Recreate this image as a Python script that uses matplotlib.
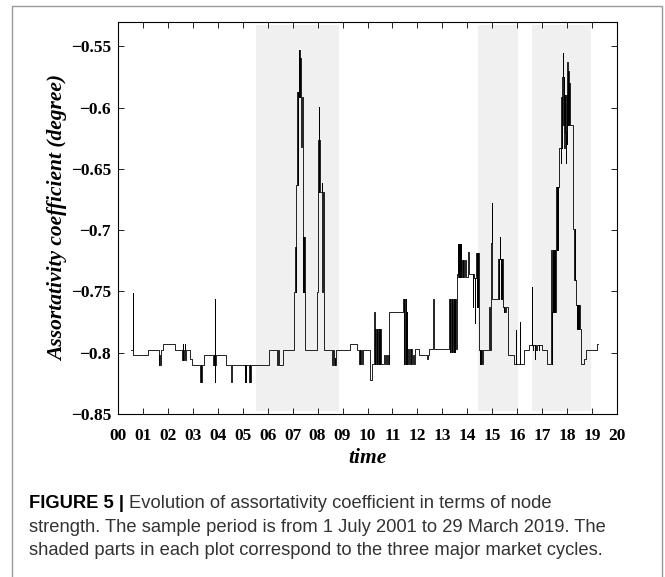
import matplotlib.pyplot as plt
from matplotlib.patches import Rectangle

# serie (tiempo en años desde 2000, coeficiente), dibujada en escalones
t = [0.53, 0.60, 0.62, 1.20, 1.63, 1.66, 1.69, 1.74, 1.80, 2.29,
     2.57, 2.59, 2.62, 2.65, 2.68, 2.70, 2.73, 2.88, 2.95, 3.30,
     3.32, 3.34, 3.37, 3.43, 3.80, 3.83, 3.86, 3.88, 3.89, 3.90,
     3.93, 4.33, 4.54, 4.56, 5.08, 5.10, 5.12, 5.14, 5.26, 5.28,
     5.31, 5.33, 6.06, 6.37, 6.42, 6.44, 6.60, 7.05, 7.06, 7.07,
     7.08, 7.10, 7.11, 7.13, 7.14, 7.15, 7.17, 7.18, 7.19, 7.21,
     7.22, 7.24, 7.25, 7.26, 7.27, 7.28, 7.30, 7.31, 7.33, 7.35,
     7.37, 7.40, 7.42, 7.43, 7.45, 7.46, 7.48, 7.50, 7.51, 7.99,
     8.00, 8.02, 8.04, 8.05, 8.06, 8.07, 8.09, 8.10, 8.11, 8.17,
     8.18, 8.20, 8.21, 8.22, 8.24, 8.59, 8.61, 8.66, 8.68, 8.70,
     8.72, 8.74, 9.28, 9.57, 9.66, 9.68, 9.70, 9.74, 9.76, 9.80,
     10.12, 10.19, 10.28, 10.30, 10.32, 10.35, 10.37, 10.40, 10.42, 10.45,
     10.47, 10.50, 10.52, 10.55, 10.68, 10.71, 10.74, 10.78, 10.82, 10.85,
     10.88, 11.44, 11.46, 11.48, 11.50, 11.53, 11.55, 11.58, 11.60, 11.62,
     11.68, 11.70, 11.74, 11.76, 11.80, 11.83, 11.86, 11.90, 12.08, 12.40,
     12.42, 12.48, 12.64, 12.65, 13.28, 13.30, 13.32, 13.35, 13.37, 13.40,
     13.42, 13.45, 13.47, 13.50, 13.52, 13.55, 13.59, 13.61, 13.63, 13.65,
     13.67, 13.69, 13.71, 13.73, 13.75, 13.78, 13.81, 13.84, 13.88, 13.92,
     13.96, 14.01, 14.08, 14.21, 14.22, 14.28, 14.30, 14.31, 14.35, 14.37,
     14.39, 14.41, 14.43, 14.45, 14.48, 14.50, 14.52, 14.54, 14.56, 14.58,
     14.62, 14.85, 14.90, 14.95, 14.99, 15.00, 15.25, 15.27, 15.29, 15.32,
     15.33, 15.35, 15.37, 15.39, 15.41, 15.44, 15.47, 15.49, 15.52, 15.54,
     15.65, 15.88, 15.95, 15.96, 16.12, 16.13, 16.28, 16.48, 16.59, 16.60,
     16.63, 16.65, 16.70, 16.72, 16.77, 16.79, 16.86, 16.88, 17.01, 17.20,
     17.35, 17.37, 17.39, 17.41, 17.43, 17.45, 17.47, 17.49, 17.51, 17.53,
     17.55, 17.57, 17.59, 17.61, 17.63, 17.65, 17.68, 17.75, 17.77, 17.79,
     17.81, 17.83, 17.84, 17.86, 17.88, 17.90, 17.92, 17.94, 17.96, 17.98,
     18.00, 18.02, 18.04, 18.06, 18.08, 18.10, 18.24, 18.28, 18.30, 18.33,
     18.37, 18.39, 18.41, 18.43, 18.45, 18.47, 18.49, 18.51, 18.55, 18.68,
     18.77, 19.21, 19.25]
v = [-0.7980, -0.7509, -0.8022, -0.7975, -0.8096, -0.8022, -0.8096, -0.7975, -0.7930, -0.7975,
     -0.8060, -0.7930, -0.8060, -0.7975, -0.7930, -0.8060, -0.7975, -0.8050, -0.8096, -0.8236,
     -0.8096, -0.8236, -0.8096, -0.8022, -0.8096, -0.8022, -0.8096, -0.7558, -0.8236, -0.8096,
     -0.8022, -0.8096, -0.8236, -0.8096, -0.8236, -0.8096, -0.8236, -0.8096, -0.8236, -0.8096,
     -0.8236, -0.8096, -0.7975, -0.8096, -0.7975, -0.8096, -0.7975, -0.7504, -0.7627, -0.7504,
     -0.7136, -0.7504, -0.7136, -0.7504, -0.7136, -0.6631, -0.5868, -0.6631, -0.5868, -0.6631,
     -0.5868, -0.5595, -0.5527, -0.5909, -0.5527, -0.5595, -0.5909, -0.5595, -0.5909, -0.6318,
     -0.5909, -0.7054, -0.7504, -0.7054, -0.7504, -0.7054, -0.7504, -0.7054, -0.7975, -0.7504,
     -0.6686, -0.6263, -0.5991, -0.6263, -0.6686, -0.6263, -0.6686, -0.6263, -0.6686, -0.6618,
     -0.7504, -0.6686, -0.7504, -0.6686, -0.7975, -0.8096, -0.7975, -0.8096, -0.8040, -0.8096,
     -0.8040, -0.7975, -0.7930, -0.7975, -0.8090, -0.7975, -0.8090, -0.7975, -0.8090, -0.7975,
     -0.8221, -0.8090, -0.7668, -0.8090, -0.7809, -0.8090, -0.7809, -0.8090, -0.7809, -0.8090,
     -0.7809, -0.8090, -0.7809, -0.8090, -0.8022, -0.8090, -0.8022, -0.8090, -0.8022, -0.8090,
     -0.7668, -0.7558, -0.8090, -0.7558, -0.8090, -0.7558, -0.8090, -0.7668, -0.8090, -0.7973,
     -0.8090, -0.7973, -0.8090, -0.7973, -0.8090, -0.8022, -0.8090, -0.7973, -0.8022, -0.8050,
     -0.8022, -0.7973, -0.7558, -0.7973, -0.7558, -0.7995, -0.7558, -0.7995, -0.7558, -0.7995,
     -0.7558, -0.7995, -0.7558, -0.7995, -0.7558, -0.7973, -0.7354, -0.7109, -0.7382, -0.7109,
     -0.7382, -0.7109, -0.7382, -0.7109, -0.7382, -0.7245, -0.7382, -0.7245, -0.7382, -0.7245,
     -0.7382, -0.7177, -0.7354, -0.7627, -0.7354, -0.7392, -0.7760, -0.7392, -0.7189, -0.7627,
     -0.7189, -0.7627, -0.7189, -0.7926, -0.7981, -0.8090, -0.7981, -0.8090, -0.7981, -0.8090,
     -0.7981, -0.7627, -0.7981, -0.7108, -0.6781, -0.7558, -0.7231, -0.7558, -0.7231, -0.7054,
     -0.7231, -0.7558, -0.7231, -0.7558, -0.7231, -0.7627, -0.7668, -0.7627, -0.7668, -0.7627,
     -0.8022, -0.8090, -0.7817, -0.8090, -0.7750, -0.8090, -0.7981, -0.7940, -0.7463, -0.7940,
     -0.7981, -0.7940, -0.8049, -0.7940, -0.7981, -0.7940, -0.7981, -0.7940, -0.7981, -0.8090,
     -0.7668, -0.7163, -0.8090, -0.7668, -0.7163, -0.7668, -0.7163, -0.7668, -0.7163, -0.7668,
     -0.7163, -0.6645, -0.7163, -0.6645, -0.7163, -0.6645, -0.6331, -0.6454, -0.5909, -0.6331,
     -0.5750, -0.5554, -0.6141, -0.5750, -0.6331, -0.5900, -0.6200, -0.6454, -0.5900, -0.6300,
     -0.5623, -0.6141, -0.5700, -0.6141, -0.5800, -0.6141, -0.6986, -0.7408, -0.6986, -0.7408,
     -0.7613, -0.7804, -0.7613, -0.7804, -0.7613, -0.7804, -0.7613, -0.7804, -0.8090, -0.8049,
     -0.7976, -0.7926, -0.7926]

# los tres ciclos de mercado (sombreados)
ciclos = [(5.55, 8.85), (14.41, 16.04), (16.59, 18.95)]

yticks = [-0.85, -0.8, -0.75, -0.7, -0.65, -0.6, -0.55]
ytick_labels = ['\u22120.85', '\u22120.8', '\u22120.75', '\u22120.7', '\u22120.65', '\u22120.6', '\u22120.55']
xticks = list(range(21))
xtick_labels = ['%02d' % i for i in xticks]

caption = ['Evolution of assortativity coefficient in terms of node',
           'strength. The sample period is from 1 July 2001 to 29 March 2019. The',
           'shaded parts in each plot correspond to the three major market cycles.']

W, H = 665, 577
fig = plt.figure(figsize=(W / 100, H / 100), dpi=100)

# marco gris de la figura
fig.add_artist(Rectangle((12 / W, -0.05), 650 / W, 1.05 - 6 / H, transform=fig.transFigure,
                         fill=False, edgecolor='#9a9a9a', linewidth=1.0))

ax = fig.add_axes([118 / W, 163 / H, 499 / W, 392 / H])

for a, b in ciclos:
    ax.fill_between([a, b], -0.8474, -0.5328, color='#f0f0f0', linewidth=0, zorder=0)

ax.plot(t, v, drawstyle='steps-post', color='k', linewidth=0.6, zorder=2)

ax.set_xlim(0, 20)
ax.set_ylim(-0.85, -0.53)
ax.set_xticks(xticks)
ax.set_xticklabels(xtick_labels)
ax.set_yticks(yticks)
ax.set_yticklabels(ytick_labels)

ax.tick_params(direction='in', top=True, right=True, length=4, width=0.6, pad=5)
ax.tick_params(axis='x', pad=10)
tick_font = dict(family='Liberation Serif', weight='bold', size=12.5)
for lab in ax.get_xticklabels() + ax.get_yticklabels():
    lab.set_fontproperties(tick_font)
for s in ax.spines.values():
    s.set_linewidth(0.8)

label_font = dict(family='Liberation Serif', weight='bold', style='italic', size=15.5)
ax.set_ylabel('Assortativity coefficient (degree)', va='center', **label_font)
ax.yaxis.set_label_coords((58 - 118) / 499, 0.5)
ax.set_xlabel('time', va='center', **label_font)
ax.xaxis.set_label_coords(0.5, (414 - 458) / 392)

# pie de figura
r = fig.canvas.get_renderer()
cap_font = dict(family='Liberation Sans', size=13.2)
t1 = fig.text(29 / W, 1 - 508 / H, 'FIGURE 5 |', weight='bold', color='k', va='baseline', **cap_font)
bb = t1.get_window_extent(r)
fig.text((bb.x1 + 5) / W, 1 - 508 / H, caption[0], color='#333333', va='baseline', **cap_font)
fig.text(29 / W, 1 - 532 / H, caption[1], color='#333333', va='baseline', **cap_font)
fig.text(29 / W, 1 - 555 / H, caption[2], color='#333333', va='baseline', **cap_font)

fig.savefig('out.png', dpi=100)
